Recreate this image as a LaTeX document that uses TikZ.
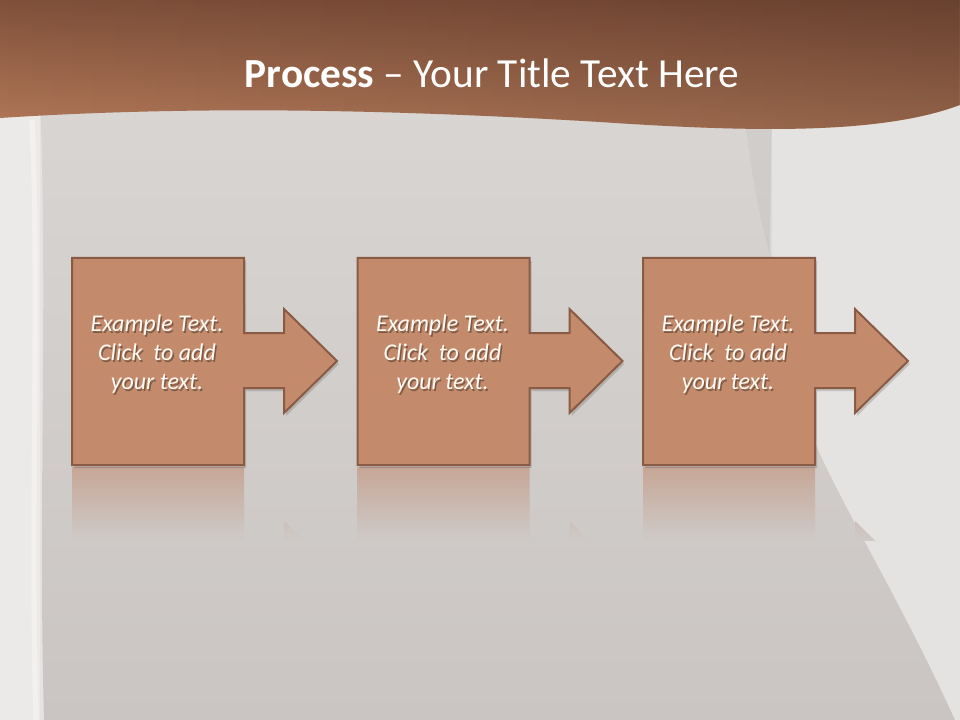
\documentclass[tikz,border=0pt]{standalone}
\usepackage{fontspec}
\setmainfont{Carlito}
\usetikzlibrary{calc,fadings}
\definecolor{hdrdark}{HTML}{80503A}
\definecolor{hdrlight}{HTML}{B47A5A}
\definecolor{bglight}{HTML}{E5E3E1}
\definecolor{bgstrip}{HTML}{ECEAE8}
\definecolor{bgmidtop}{HTML}{D8D5D3}
\definecolor{bgmid}{HTML}{CAC5C2}
\definecolor{boxfill}{HTML}{C38B6C}
\definecolor{boxline}{HTML}{8A5A44}
\definecolor{refltop}{HTML}{C6A696}
\definecolor{txtcol}{HTML}{FFFAF3}
\colorlet{reflend}{bgmid!70!bgmidtop}
\tikzset{
  boxshape/.style={fill=boxfill, draw=boxline, line width=1.5pt, line join=miter},
  boxshadow/.style={fill=black, opacity=0.15},
  boxtext/.style={text=txtcol, font=\itshape\fontsize{18}{21.6}\selectfont, align=center},
  textshadow/.style={text=black, opacity=0.35, font=\itshape\fontsize{18}{21.6}\selectfont, align=center},
  titletext/.style={text=white, font=\fontsize{31}{37}\selectfont, anchor=base}
}
\newcommand{\procshape}[1]{%
  (#1,258) -- ({#1+172},258) -- ({#1+172},333) -- ({#1+212},333) -- ({#1+212},309) --
  ({#1+265},361) -- ({#1+212},413) -- ({#1+212},388) -- ({#1+172},388) --
  ({#1+172},465) -- (#1,465) -- cycle}
\newcommand{\reflshape}[1]{%
  (#1,467) -- ({#1+172},467) -- ({#1+172},600) -- ({#1+212},600) -- ({#1+212},521) --
  ({#1+265},573) -- ({#1+212},625) -- ({#1+212},680) -- (#1,680) -- cycle}
\newcommand{\hdrpath}{(0,0) -- (960,0) -- (960,105) .. controls (880,135) and (750,132) .. (600,122)
  .. controls (400,110) and (200,105) .. (0,118) -- cycle}
\begin{document}
\begin{tikzpicture}[x=0.75pt,y=-0.75pt]
\useasboundingbox (0,0) rectangle (960,720);
% background
\fill[bglight] (0,0) rectangle (960,720);
\fill[bgstrip] (0,0) rectangle (40,720);
\shade[top color=bgmidtop, bottom color=bgmid]
  (40,100) -- (772,100) -- (770,250) .. controls (780,330) and (800,400) .. (818,450)
  .. controls (850,520) and (900,600) .. (955,720) -- (44,720)
  .. controls (38,500) and (48,300) .. (40,100) -- cycle;
\draw[white, opacity=0.35, line width=4pt] (32,120) .. controls (40,300) and (30,500) .. (36,720);
\fill[black, opacity=0.03] (745,120) .. controls (752,180) and (760,220) .. (772,262)
  -- (772,120) -- cycle;
% header
\shade[top color=hdrdark, bottom color=hdrlight] \hdrpath;
\fill[black, opacity=0.18, path fading=west] \hdrpath;
\node[titletext] (title) at (492,88) {\textbf{Process} – Your Title Text Here};
% reflections
\foreach \x in {72,357.5,643} {
  \begin{scope}
    \clip \reflshape{\x};
    \shade[top color=refltop, bottom color=reflend] (\x-5,467) rectangle (\x+270,540);
  \end{scope}
}
% process shapes
\fill[boxshadow] [shift={(2,3)}] \procshape{72};
\fill[boxshadow] [shift={(2,3)}] \procshape{357.5};
\fill[boxshadow] [shift={(2,3)}] \procshape{643};
\path[boxshape] \procshape{72};
\path[boxshape] \procshape{357.5};
\path[boxshape] \procshape{643};
% texts
\node[textshadow] (s1) at (158.5,356) {Example Text.\\Click~ to add\\your text.};
\node[boxtext] (t1) at (157,354) {Example Text.\\Click~ to add\\your text.};
\node[textshadow] (s2) at (444,356) {Example Text.\\Click~ to add\\your text.};
\node[boxtext] (t2) at (442.5,354) {Example Text.\\Click~ to add\\your text.};
\node[textshadow] (s3) at (729.5,356) {Example Text.\\Click~ to add\\your text.};
\node[boxtext] (t3) at (728,354) {Example Text.\\Click~ to add\\your text.};
\end{tikzpicture}
\end{document}
